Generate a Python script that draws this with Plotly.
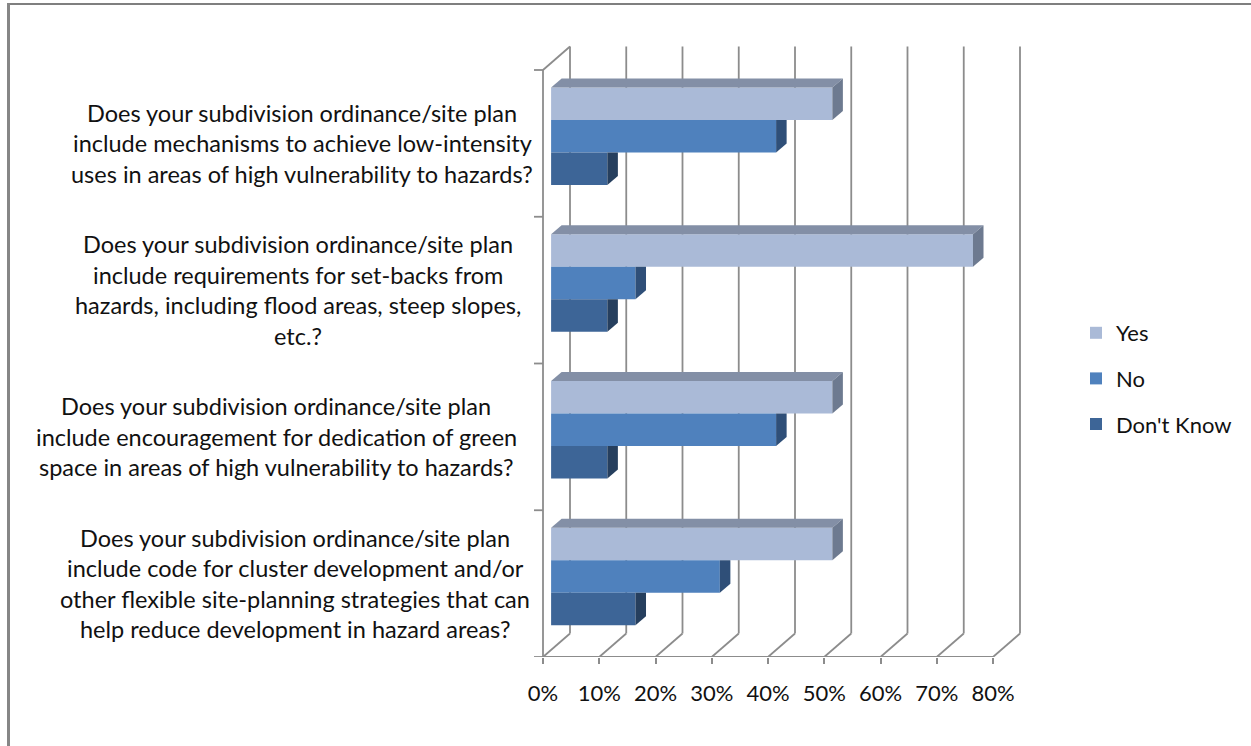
import plotly.graph_objects as go

# Survey questions (top to bottom) and answer shares in percent
questions = [
    ["Does your subdivision ordinance/site plan",
     "include mechanisms to achieve low-intensity",
     "uses in areas of high vulnerability to hazards?"],
    ["Does your subdivision ordinance/site plan",
     "include requirements for set-backs from",
     "hazards, including flood areas, steep slopes,",
     "etc.?"],
    ["Does your subdivision ordinance/site plan",
     "include encouragement for dedication of green",
     "space in areas of high vulnerability to hazards?"],
    ["Does your subdivision ordinance/site plan",
     "include code for cluster development and/or",
     "other flexible site-planning strategies that can",
     "help reduce development in hazard areas?"],
]
series_names = ["Yes", "No", "Don't Know"]
yes_values = [50, 75, 50, 50]
no_values = [40, 15, 40, 30]
dont_know_values = [10, 10, 10, 15]
tick_values = [0, 10, 20, 30, 40, 50, 60, 70, 80]
tick_labels = ["0%", "10%", "20%", "30%", "40%", "50%", "60%", "70%", "80%"]

series_values = [yes_values, no_values, dont_know_values]
front_colors = ["#AABAD7", "#4F81BD", "#3D6597"]
top_colors = ["#838FA6", "#3E6594", "#2F4E75"]
side_colors = ["#6D7A90", "#2F4F78", "#263F5E"]

FONT = "Lato"
TEXT_COLOR = "#111111"
LINE_COLOR = "#8C8C8C"

# canvas and plot-area geometry
FIG_W, FIG_H = 1251, 746
M_L, M_R, M_T, M_B = 520, 200, 20, 89
PLOT_W = FIG_W - M_L - M_R
PLOT_H = FIG_H - M_T - M_B
X0_PX = 543            # pixel of 0% on the front plane
PX_PER_PCT = 5.625
PX_PER_CAT = 146.75
x_range = [(M_L - X0_PX) / PX_PER_PCT, (M_L + PLOT_W - X0_PX) / PX_PER_PCT]
y_range = [0, PLOT_H / PX_PER_CAT]

# pseudo-3D depth vector (front plane -> back wall) in data units
DEPTH_X = 27 / PX_PER_PCT
DEPTH_Y = 23.5 / PX_PER_CAT
F_FRONT, F_BACK = 0.30, 0.69      # bar slab position inside the depth
BAR_W = 0.2215
n_cat = len(questions)
cat_centers = [n_cat - i - 0.5 for i in range(n_cat)]


def paper_x(px):
    return (px - M_L) / PLOT_W


def paper_y(py):
    return (M_T + PLOT_H - py) / PLOT_H


fig = go.Figure()

bar_base = F_FRONT * DEPTH_X
bar_lift = F_FRONT * DEPTH_Y
dbx = (F_BACK - F_FRONT) * DEPTH_X
dby = (F_BACK - F_FRONT) * DEPTH_Y
offsets = [BAR_W, 0.0, -BAR_W]

# front faces of the bars
for s, name in enumerate(series_names):
    fig.add_trace(go.Bar(
        orientation="h",
        name=name,
        x=series_values[s],
        base=[bar_base] * n_cat,
        y=[c + offsets[s] + bar_lift for c in cat_centers],
        width=BAR_W,
        marker=dict(color=front_colors[s], line=dict(width=0)),
        legendgroup=name,
        hoverinfo="skip",
    ))

# top and end faces of the bars
for ci, c in enumerate(cat_centers):
    for s in range(len(series_names)):
        v = series_values[s][ci]
        yc = c + offsets[s] + bar_lift
        yt, yb = yc + BAR_W / 2, yc - BAR_W / 2
        x1 = bar_base + v
        covered = s > 0 and (bar_base + series_values[s - 1][ci]) >= x1 + dbx
        if covered:
            sx = [x1, x1, x1 + dbx, x1 + dbx, x1]
            sy = [yb, yt, yt, yb + dby, yb]
        else:
            sx = [x1, x1, x1 + dbx, x1 + dbx, x1]
            sy = [yb, yt, yt + dby, yb + dby, yb]
            fig.add_trace(go.Scatter(
                x=[bar_base, x1, x1 + dbx, bar_base + dbx, bar_base],
                y=[yt, yt, yt + dby, yt + dby, yt],
                fill="toself", fillcolor=top_colors[s], mode="lines",
                line=dict(width=0), showlegend=False, hoverinfo="skip"))
        fig.add_trace(go.Scatter(
            x=sx, y=sy, fill="toself", fillcolor=side_colors[s], mode="lines",
            line=dict(width=0), showlegend=False, hoverinfo="skip"))

shapes = []
line_style = dict(color=LINE_COLOR, width=1.8)
top_y = n_cat
# back-wall gridlines and floor diagonals
for v in tick_values:
    shapes.append(dict(type="line", xref="x", yref="y", layer="below",
                       x0=v + DEPTH_X, x1=v + DEPTH_X, y0=DEPTH_Y, y1=top_y + DEPTH_Y,
                       line=line_style))
    shapes.append(dict(type="line", xref="x", yref="y", layer="below",
                       x0=v, x1=v + DEPTH_X, y0=0, y1=DEPTH_Y, line=line_style))
# front floor edge, left wall edge and its top diagonal
shapes.append(dict(type="line", xref="x", yref="y", layer="below",
                   x0=0, x1=tick_values[-1], y0=0, y1=0, line=line_style))
shapes.append(dict(type="line", xref="x", yref="y", layer="below",
                   x0=0, x1=0, y0=0, y1=top_y, line=line_style))
shapes.append(dict(type="line", xref="x", yref="y", layer="below",
                   x0=0, x1=DEPTH_X, y0=top_y, y1=top_y + DEPTH_Y, line=line_style))
# category boundary ticks
for k in range(n_cat + 1):
    shapes.append(dict(type="line", xref="x", yref="y", layer="below",
                       x0=-1.6, x1=0, y0=k, y1=k, line=line_style))
# outer frame (top and left edges)
shapes.append(dict(type="line", xref="paper", yref="paper",
                   x0=paper_x(8), x1=paper_x(FIG_W), y0=paper_y(4), y1=paper_y(4),
                   line=dict(color="#7F7F7F", width=2)))
shapes.append(dict(type="line", xref="paper", yref="paper",
                   x0=paper_x(8.5), x1=paper_x(8.5), y0=paper_y(3), y1=paper_y(FIG_H),
                   line=dict(color="#868686", width=3)))

# category labels, one annotation per line, centred on the category
label_centers_px = [302, 298, 276, 295]
LINE_GAP_PX = 30.5
annotations = []
for ci, lines in enumerate(questions):
    n = len(lines)
    for li, txt in enumerate(lines):
        dy_px = (li - (n - 1) / 2) * LINE_GAP_PX
        annotations.append(dict(
            text=txt, xref="paper", yref="y",
            x=paper_x(label_centers_px[ci]), y=cat_centers[ci] - dy_px / PX_PER_CAT,
            xanchor="center", yanchor="middle", showarrow=False,
            font=dict(family=FONT, size=23.5, color=TEXT_COLOR)))

fig.update_layout(
    width=FIG_W, height=FIG_H,
    margin=dict(l=M_L, r=M_R, t=M_T, b=M_B, pad=0),
    paper_bgcolor="white", plot_bgcolor="white",
    barmode="overlay",
    showlegend=True,
    legend=dict(x=paper_x(1076), y=paper_y(312), xanchor="left", yanchor="top",
                font=dict(family=FONT, size=22, color=TEXT_COLOR),
                traceorder="grouped", tracegroupgap=14,
                bgcolor="rgba(0,0,0,0)", itemwidth=30),
    xaxis=dict(range=x_range, tickvals=tick_values, ticktext=tick_labels,
               showgrid=False, zeroline=False, showline=False,
               ticks="outside", ticklen=6, tickwidth=1.8, tickcolor=LINE_COLOR,
               ticklabelstandoff=11,
               tickfont=dict(family=FONT, size=22, color=TEXT_COLOR),
               fixedrange=True),
    yaxis=dict(range=y_range, showgrid=False, zeroline=False, showline=False,
               showticklabels=False, ticks="", fixedrange=True),
    shapes=shapes,
    annotations=annotations,
)

fig.write_html("out.html")
